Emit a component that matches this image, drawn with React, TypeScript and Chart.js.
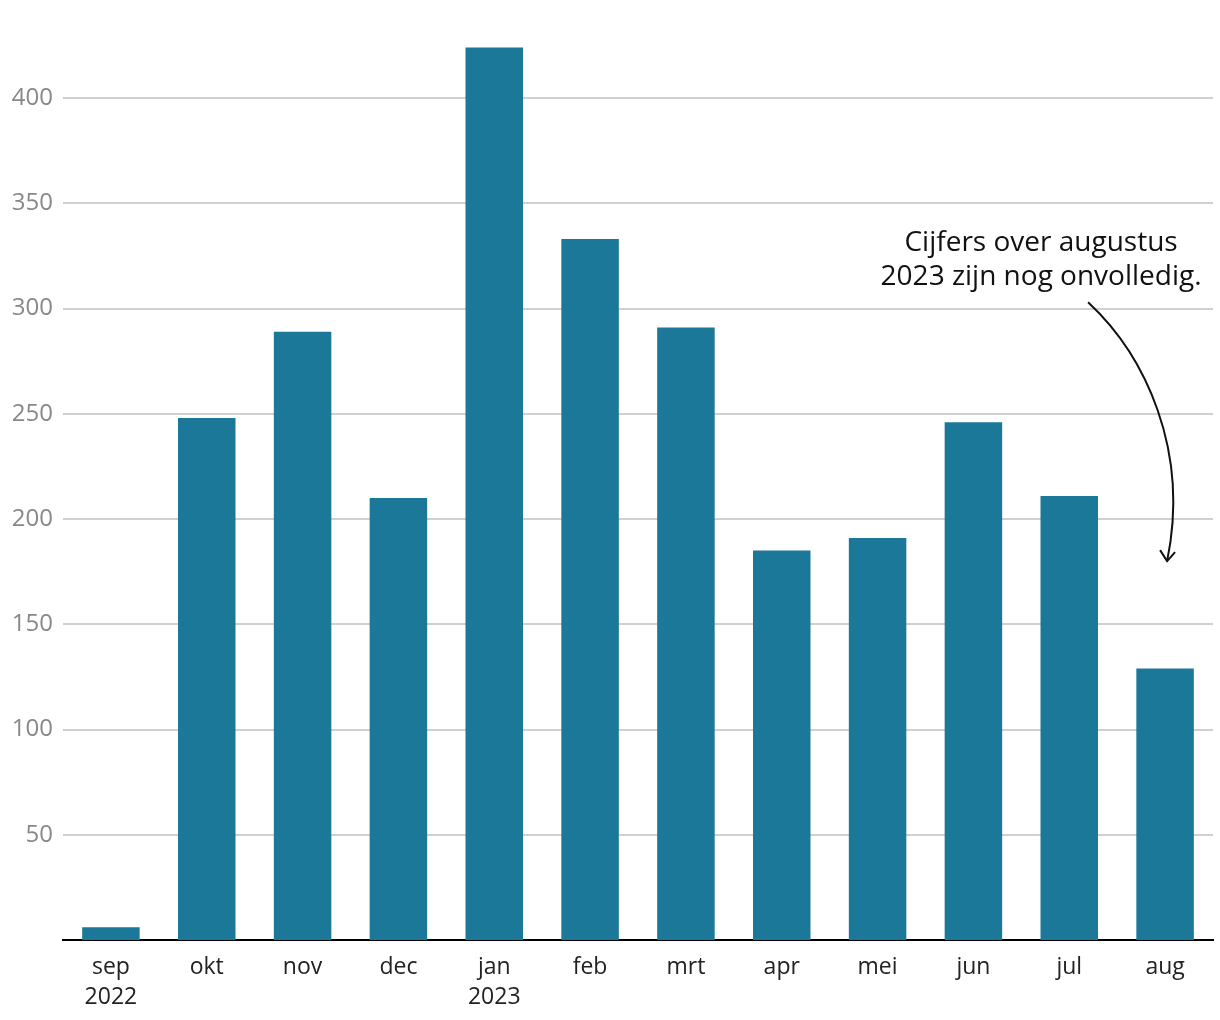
import React, { useEffect, useRef } from "react";
import { Chart, registerables } from "chart.js";

Chart.register(...registerables);

const categories: (string | string[])[] = [
  ["sep", "2022"], "okt", "nov", "dec", ["jan", "2023"], "feb", "mrt", "apr", "mei", "jun", "jul", "aug",
];
const values: number[] = [6, 248, 289, 210, 424, 333, 291, 185, 191, 246, 211, 129];
const yTickValues: number[] = [50, 100, 150, 200, 250, 300, 350, 400];
const noteLines: string[] = ["Cijfers over augustus", "2023 zijn nog onvolledig."];

const FONT = "'Open Sans', sans-serif";

const annotationPlugin = {
  id: "note",
  afterDraw(chart: any) {
    const ctx = chart.ctx as CanvasRenderingContext2D;
    const x = chart.scales.x;
    const y = chart.scales.y;
    const lastX = x.getPixelForValue(values.length - 1);
    ctx.save();
    ctx.fillStyle = "#111";
    ctx.font = `28px ${FONT}`;
    ctx.textAlign = "center";
    ctx.textBaseline = "middle";
    const cx = lastX - 124;
    const ty = y.getPixelForValue(331);
    noteLines.forEach((l, i) => ctx.fillText(l, cx, ty + i * 34));
    // curved arrow
    const sx = lastX - 77, sy = y.getPixelForValue(303);
    const ex = lastX + 2, ey = y.getPixelForValue(180);
    ctx.strokeStyle = "#111";
    ctx.lineWidth = 2;
    ctx.beginPath();
    ctx.moveTo(sx, sy);
    ctx.bezierCurveTo(sx + 57, sy + 53, sx + 102, sy + 148, ex, ey);
    ctx.stroke();
    ctx.beginPath();
    ctx.moveTo(ex - 7, ey - 11);
    ctx.lineTo(ex, ey);
    ctx.lineTo(ex + 8, ey - 9);
    ctx.stroke();
    ctx.restore();
  },
};

export default function App() {
  const ref = useRef<HTMLCanvasElement>(null);
  useEffect(() => {
    document.body.style.margin = "0";
    const chart = new Chart(ref.current!, {
      type: "bar",
      data: {
        labels: categories as any,
        datasets: [
          {
            data: values,
            backgroundColor: "#1c7898",
            barPercentage: 0.6,
            categoryPercentage: 1,
          },
        ],
      },
      options: {
        responsive: false,
        animation: false,
        layout: { padding: { top: 0, right: 7, bottom: 5, left: 0 } },
        plugins: { legend: { display: false }, tooltip: { enabled: false } },
        scales: {
          x: {
            grid: { display: false, drawTicks: false },
            border: { display: true, color: "#000", width: 2 },
            ticks: {
              color: "#222",
              font: { family: FONT, size: 23, lineHeight: 1.3 },
              padding: 13,
              maxRotation: 0,
              autoSkip: false,
            },
            afterFit: (s: any) => {
              s.height = 75;
            },
          },
          y: {
            min: 0,
            max: 435,
            afterBuildTicks: (s: any) => {
              s.ticks = yTickValues.map((v) => ({ value: v }));
            },
            grid: { color: "#d0d0d0", lineWidth: 2, drawTicks: false },
            border: { display: false },
            ticks: {
              color: "#888",
              font: { family: FONT, size: 24 },
              padding: 10,
            },
            afterFit: (s: any) => {
              s.width = 63;
            },
          },
        },
      },
      plugins: [annotationPlugin],
    });
    return () => chart.destroy();
  }, []);
  return <canvas ref={ref} width={1220} height={1020} style={{ display: "block" }} />;
}
